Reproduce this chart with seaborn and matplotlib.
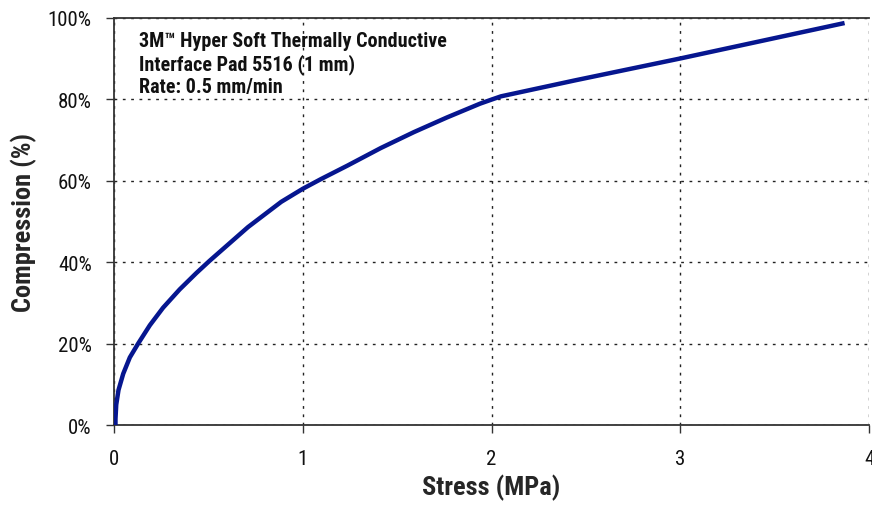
import matplotlib
matplotlib.use("Agg")
import matplotlib.pyplot as plt
import seaborn as sns
import pandas as pd
from matplotlib.ticker import FuncFormatter

# Data
stress_mpa = [0.008, 0.008, 0.012, 0.024, 0.049, 0.084, 0.128, 0.19, 0.26, 0.348,
              0.436, 0.506, 0.56, 0.71, 0.886, 1.0, 1.097, 1.237, 1.413, 1.588,
              1.763, 1.939, 2.0, 2.05, 2.08, 2.44, 3.0, 3.87]
compression_pct = [0.0, 1.5, 5.0, 8.6, 12.6, 16.6, 20.0, 24.5, 28.8, 33.3,
                   37.3, 40.3, 42.5, 48.6, 54.8, 58.0, 60.4, 63.7, 68.0, 71.9,
                   75.5, 78.9, 79.9, 80.7, 81.0, 84.6, 90.0, 98.7]
x_ticks = [0, 1, 2, 3, 4]
y_ticks = [0, 20, 40, 60, 80, 100]
annotation = "3M™ Hyper Soft Thermally Conductive\nInterface Pad 5516 (1 mm)\nRate: 0.5 mm/min"

sns.set_style("ticks")
plt.rcParams['font.family'] = ['Roboto Condensed', 'Liberation Sans', 'DejaVu Sans']

df = pd.DataFrame({"Stress": stress_mpa, "Compression": compression_pct})

fig = plt.figure(figsize=(8.72, 5.06), dpi=100)
ax = fig.add_axes([0.1307, 0.1580, 0.866, 0.8050])

sns.lineplot(data=df, x="Stress", y="Compression", ax=ax, color="#06168f",
             linewidth=3.2, sort=False, estimator=None, solid_capstyle="butt",
             solid_joinstyle="round", zorder=3)

ax.set_xlim(0, 4)
ax.set_ylim(0, 100)
ax.set_xticks(x_ticks)
ax.set_yticks(y_ticks)
ax.yaxis.set_major_formatter(FuncFormatter(lambda v, p: f"{int(v)}%"))
ax.tick_params(axis="both", labelsize=15, length=6, width=1.0, color="#333333",
               labelcolor="#111111", direction="out")
ax.tick_params(axis="x", pad=11)
ax.tick_params(axis="y", pad=10)

ax.grid(True, linestyle=(0, (2, 4)), color="#222222", linewidth=1.0)
for s in ["left", "bottom", "top"]:
    ax.spines[s].set_color("#333333")
    ax.spines[s].set_linewidth(1.3)
ax.spines["right"].set_visible(False)

ax.set_xlabel("Stress (MPa)", fontsize=19, fontweight="bold", labelpad=4)
ax.set_ylabel("Compression (%)", fontsize=19, fontweight="bold", labelpad=8)

ax.text(0.033, 0.968, annotation, transform=ax.transAxes, ha="left", va="top",
        fontsize=14.5, fontweight="bold", linespacing=1.2, color="#111111")

fig.savefig("out.png", dpi=100)
